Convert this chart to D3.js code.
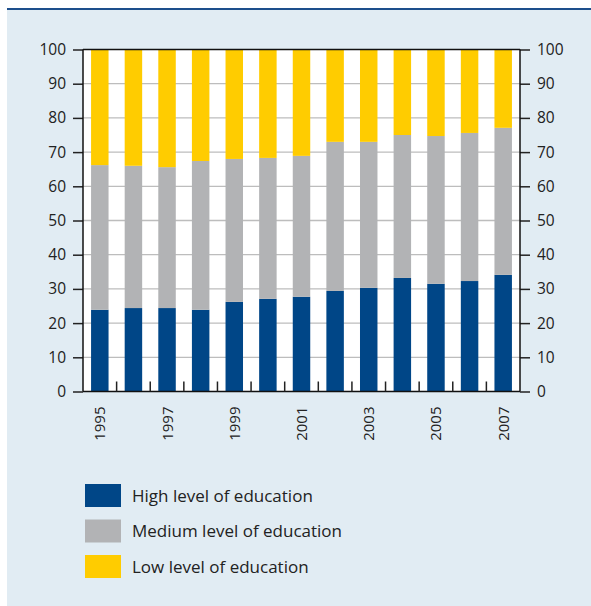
<!DOCTYPE html>
<html>
<head>
<meta charset="utf-8">
<script src="https://cdn.jsdelivr.net/npm/d3@7"></script>
<style>
  body { margin: 0; background: #fff; }
  svg text { font-family: "Open Sans", "Noto Sans", sans-serif; fill: #222; }
</style>
</head>
<body>
<div id="chart"></div>
<script>
// values, in percent
const years = ["1995","1996","1997","1998","1999","2000","2001","2002","2003","2004","2005","2006","2007"];
const high = [23.9, 24.4, 24.4, 23.9, 26.2, 27.1, 27.7, 29.4, 30.3, 33.2, 31.5, 32.3, 34.1];
const medium = [42.3, 41.6, 41.2, 43.5, 41.8, 41.2, 41.2, 43.6, 42.7, 41.8, 43.2, 43.3, 43.0];
const low = [33.8, 34.0, 34.4, 32.6, 32.0, 31.7, 31.1, 27.0, 27.0, 25.0, 25.3, 24.4, 22.9];
const yTicks = [0, 10, 20, 30, 40, 50, 60, 70, 80, 90, 100];
const labelYears = ["1995","1997","1999","2001","2003","2005","2007"];
const seriesNames = ["High level of education", "Medium level of education", "Low level of education"];
const seriesKeys = ["high", "medium", "low"];

let W = 591, H = 606;
let m = { left: 83, right: 71, top: 49.5, bottom: 214.5 };
let width = W - m.left - m.right,
    height = H - m.top - m.bottom;

let color = d3.scaleOrdinal().domain(seriesKeys).range(["#004687", "#b2b3b5", "#ffcc00"]);

let svg = d3.select("#chart").append("svg")
    .attr("width", W)
    .attr("height", H);

// panel background + top rule
svg.append("rect")
    .attr("x", 7).attr("y", 9)
    .attr("width", W - 7).attr("height", H - 9)
    .attr("fill", "#e1ecf3");
svg.append("line")
    .attr("x1", 7).attr("x2", W)
    .attr("y1", 9).attr("y2", 9)
    .attr("stroke", "#1d4f8c")
    .attr("stroke-width", 2);

let vis = svg.append("g")
    .attr("transform", "translate(" + m.left + "," + m.top + ")");

let x = d3.scaleBand().domain(years).range([0, width]).paddingInner(0.48).paddingOuter(0.24);
let y = d3.scaleLinear().domain([0, 100]).range([height, 0]);

vis.append("rect")
    .attr("width", width).attr("height", height)
    .attr("fill", "#fff");

// gridlines
vis.selectAll(".grid").data(yTicks.filter(d => d > 0 && d < 100))
  .enter().append("line")
    .attr("class", "grid")
    .attr("x1", 0).attr("x2", width)
    .attr("y1", d => y(d)).attr("y2", d => y(d))
    .attr("stroke", "#bdbdbd")
    .attr("stroke-width", 1.3);

let rows = years.map((yr, i) => ({ year: yr, high: high[i], medium: medium[i], low: low[i] }));
let stacked = d3.stack().keys(seriesKeys)(rows);

vis.selectAll(".series").data(stacked)
  .enter().append("g")
    .attr("class", "series")
    .attr("fill", d => color(d.key))
  .selectAll("rect").data(d => d)
  .enter().append("rect")
    .attr("x", d => x(d.data.year))
    .attr("y", d => y(d[1]))
    .attr("width", x.bandwidth())
    .attr("height", d => y(d[0]) - y(d[1]));

// frame: top, bottom
vis.append("line").attr("x1", 0).attr("x2", width).attr("y1", y(100)).attr("y2", y(100))
    .attr("stroke", "#111").attr("stroke-width", 1.5);
vis.append("line").attr("x1", 0).attr("x2", width).attr("y1", y(0)).attr("y2", y(0))
    .attr("stroke", "#111").attr("stroke-width", 1.5);

let leftAxis = vis.append("g")
    .call(d3.axisLeft(y).tickValues(yTicks).tickSize(10).tickPadding(7));
let rightAxis = vis.append("g")
    .attr("transform", "translate(" + width + ",0)")
    .call(d3.axisRight(y).tickValues(yTicks).tickSize(10).tickPadding(7));

[leftAxis, rightAxis].forEach(a => {
    a.select(".domain").remove();
    a.selectAll(".tick line").attr("stroke", "#222").attr("stroke-width", 1.5);
    a.selectAll(".tick text").style("font-size", "15.5px").attr("fill", "#222");
});
vis.append("line").attr("x1", 0).attr("x2", 0).attr("y1", 0).attr("y2", height)
    .attr("stroke", "#111").attr("stroke-width", 1.5);
vis.append("line").attr("x1", width).attr("x2", width).attr("y1", 0).attr("y2", height)
    .attr("stroke", "#111").attr("stroke-width", 1.5);

// small ticks between the bars
vis.selectAll(".xtick").data(years.slice(1))
  .enter().append("line")
    .attr("class", "xtick")
    .attr("x1", d => x(d) - x.step() * x.paddingInner() / 2)
    .attr("x2", d => x(d) - x.step() * x.paddingInner() / 2)
    .attr("y1", height).attr("y2", height - 10)
    .attr("stroke", "#222").attr("stroke-width", 1.5);

// year labels, rotated
vis.selectAll(".xlabel").data(labelYears)
  .enter().append("text")
    .attr("class", "xlabel")
    .attr("transform", d => "translate(" + (x(d) + x.bandwidth() / 2 + 5.5) + "," + (height + 15) + ") rotate(-90)")
    .style("text-anchor", "end")
    .style("font-size", "15px")
    .text(d => d);

// legend
let legend = svg.append("g")
    .attr("transform", "translate(85,484)");

seriesKeys.forEach((k, i) => {
    let g = legend.append("g")
        .attr("transform", "translate(0," + (i * 35.5) + ")");
    g.append("rect")
        .attr("width", 36).attr("height", 23)
        .attr("fill", color(k));
    g.append("text")
        .attr("x", 47).attr("y", 17.5)
        .style("font-size", "17px")
        .attr("fill", "#222")
        .text(seriesNames[i]);
});
</script>
</body>
</html>
